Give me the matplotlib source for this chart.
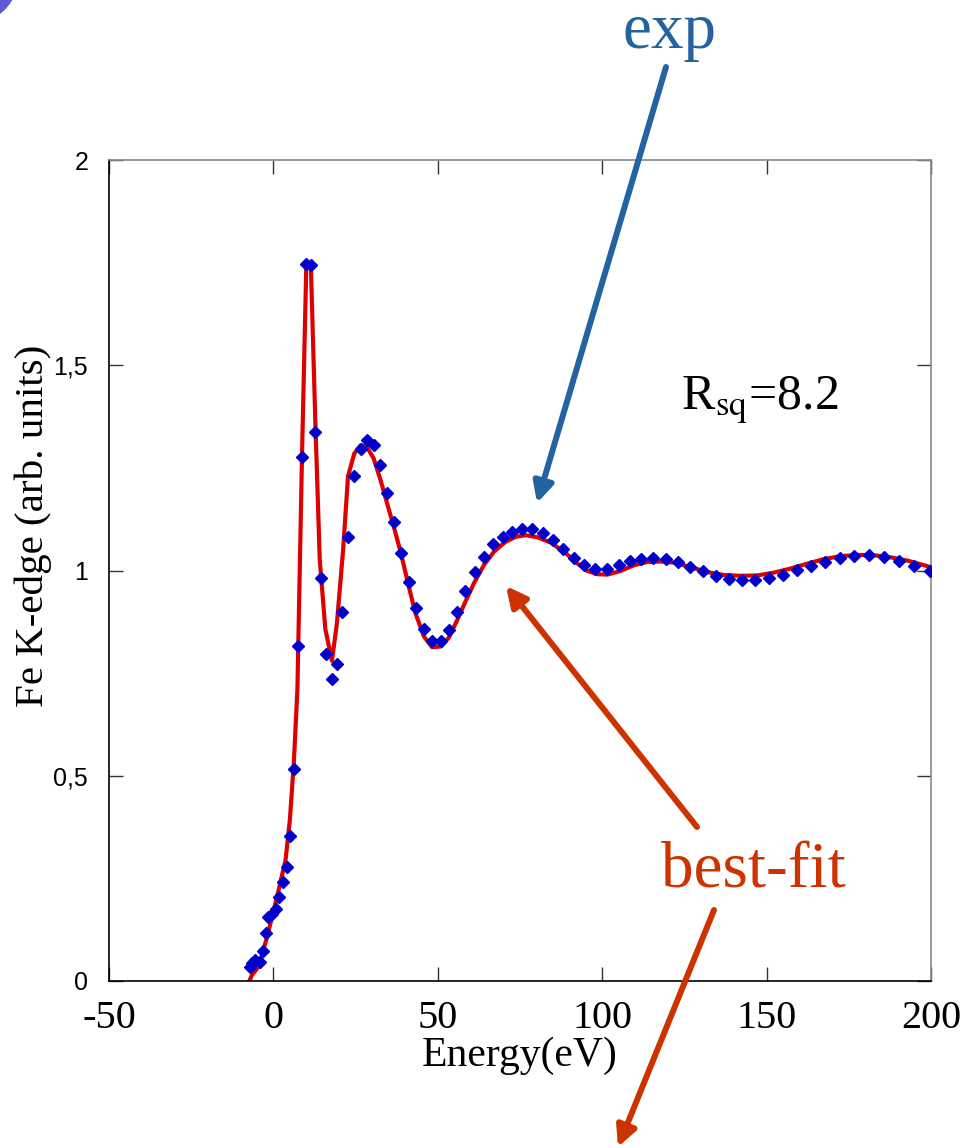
import matplotlib
matplotlib.use("Agg")
import matplotlib.pyplot as plt
from matplotlib.patches import Ellipse

plt.rcParams['mathtext.fontset'] = 'stix'

# ---- data ----
exp_energy = [-7.2, -6.5, -5.5, -4.0, -3.3, -2.2, -1.6, -0.4, 0.9, 1.8, 2.9, 4.0, 5.0, 6.2,
              7.4, 8.7, 10.0, 11.4, 12.8, 14.5, 15.9, 17.8, 19.2, 21.0, 22.7, 24.6, 26.6,
              28.5, 30.5, 32.4, 34.7, 36.7, 38.9, 41.1, 43.5, 45.9, 48.3, 50.9, 53.3, 55.8,
              58.4, 61.3, 64.0, 66.8, 69.7, 72.5, 75.7, 78.8, 81.9, 85.1, 88.2, 91.4, 94.6,
              97.9, 101.5, 105.0, 108.4, 111.9, 115.6, 119.3, 123.1, 126.8, 130.8, 134.6,
              138.6, 142.5, 146.5, 150.8, 154.9, 159.2, 163.5, 167.9, 172.3, 176.7, 181.2,
              185.7, 190.3, 194.9, 199.7]
exp_mu = [0.033, 0.043, 0.051, 0.047, 0.074, 0.116, 0.155, 0.162, 0.175, 0.204, 0.240, 0.277,
          0.354, 0.516, 0.816, 1.277, 1.747, 1.744, 1.338, 0.982, 0.797, 0.736, 0.772, 0.899,
          1.082, 1.229, 1.297, 1.319, 1.306, 1.256, 1.190, 1.118, 1.042, 0.973, 0.908, 0.857,
          0.828, 0.828, 0.855, 0.898, 0.949, 0.996, 1.034, 1.065, 1.082, 1.095, 1.101, 1.101,
          1.091, 1.074, 1.053, 1.030, 1.014, 1.004, 1.004, 1.013, 1.023, 1.028, 1.031, 1.027,
          1.021, 1.009, 0.998, 0.987, 0.980, 0.977, 0.977, 0.982, 0.989, 1.001, 1.010, 1.021,
          1.030, 1.036, 1.037, 1.032, 1.023, 1.010, 0.999]

fit_energy = [-7.3, -6.5, -4.5, -1.9, 1.1, 3.7, 5.0, 6.2, 7.3, 8.7, 10.0, 11.4, 12.8, 14.1,
              15.8, 17.8, 19.3, 21.2, 22.7, 24.6, 26.5, 28.5, 30.5, 32.6, 34.6, 36.6, 38.8,
              41.2, 43.2, 45.8, 48.3, 51.0, 53.4, 55.9, 58.4, 61.0, 64.0, 67.1, 70.6, 73.7,
              76.7, 80.3, 84.3, 88.4, 92.5, 95.5, 98.5, 101.6, 105.6, 109.7, 113.8, 117.7,
              121.9, 127.0, 132.0, 137.1, 142.2, 147.2, 152.3, 157.4, 162.5, 167.5, 172.6,
              177.7, 182.7, 187.8, 192.9, 200.0]
fit_mu = [0.0, 0.015, 0.035, 0.108, 0.205, 0.295, 0.392, 0.53, 0.71, 1.28, 1.74, 1.74, 1.35,
          1.026, 0.857, 0.78, 0.87, 1.05, 1.23, 1.285, 1.305, 1.30, 1.273, 1.22, 1.163, 1.107,
          1.042, 0.96, 0.896, 0.839, 0.813, 0.815, 0.837, 0.879, 0.924, 0.969, 1.013, 1.046,
          1.070, 1.082, 1.086, 1.081, 1.068, 1.046, 1.017, 0.999, 0.991, 0.990, 0.999, 1.013,
          1.021, 1.022, 1.019, 1.008, 0.996, 0.989, 0.987, 0.988, 0.995, 1.005, 1.017, 1.028,
          1.035, 1.038, 1.037, 1.032, 1.024, 1.008]

x_ticks = [-50, 0, 50, 100, 150, 200]
x_tick_labels = ['-50', '0', '50', '100', '150', '200']
y_ticks = [0, 0.5, 1, 1.5, 2]
y_tick_labels = ['0', '0,5', '1', '1,5', '2']

W, H = 978, 1148
fig = plt.figure(figsize=(W / 100, H / 100), dpi=100)
ax = fig.add_axes([109 / W, 1 - 981 / H, (931 - 109) / W, (981 - 160) / H])

ax.plot(fit_energy, fit_mu, color='#dd0000', lw=3.0, zorder=2, solid_joinstyle='round')
ax.plot(exp_energy, exp_mu, ls='none', marker='D', ms=6.3, color='#0000cc', mec='#0000cc', zorder=3)

ax.set_xlim(-50, 200)
ax.set_ylim(0, 2)
ax.set_xticks(x_ticks)
ax.set_xticklabels(x_tick_labels, fontfamily='Liberation Serif', fontsize=29)
ax.set_yticks(y_ticks)
ax.set_yticklabels(y_tick_labels, fontfamily='Liberation Sans', fontsize=18)
ax.tick_params(axis='both', direction='in', length=10, width=1.0, color='#333333',
               top=True, right=True)
ax.tick_params(axis='x', pad=14)
ax.tick_params(axis='y', pad=15)

for s in ['left', 'bottom']:
    ax.spines[s].set_color('black')
    ax.spines[s].set_linewidth(1.2)
for s in ['top', 'right']:
    ax.spines[s].set_color('#888888')
    ax.spines[s].set_linewidth(1.2)

ax.set_xlabel('Energy(eV)', fontfamily='Liberation Serif', fontsize=30)
ax.xaxis.label.set_va('center')
ax.xaxis.set_label_coords(0.5, (981 - 1056) / 821)
ax.set_ylabel('Fe K-edge (arb. units)', fontfamily='Liberation Serif', fontsize=29.5)
ax.yaxis.label.set_va('center')
ax.yaxis.set_label_coords((33 - 109) / 822, (981 - 526) / 821)

ax.text((760 - 109) / 822, (981 - 400) / 821, r'R$_{\mathrm{sq}}$=8.2', transform=ax.transAxes,
        fontfamily='Liberation Serif', fontsize=36, ha='center', va='center')

# annotations
fig.text(670 / W, 1 - 32 / H, 'exp', fontfamily='Liberation Serif', fontsize=47,
         color='#2263a0', ha='center', va='center')
fig.text(753 / W, 1 - 872 / H, 'best-fit', fontfamily='Liberation Serif', fontsize=47,
         color='#cc3300', ha='center', va='center')

def arrow(x0, y0, x1, y1, color):
    ax.annotate('', xy=(x1, H - y1), xytext=(x0, H - y0), xycoords='figure pixels',
                textcoords='figure pixels', annotation_clip=False,
                arrowprops=dict(arrowstyle='-|>', lw=4.3, color=color, mutation_scale=30,
                                shrinkA=0, shrinkB=0))

arrow(666, 67, 537, 503, '#2263a0')
arrow(697, 827, 506, 586, '#cc3300')
arrow(714, 910, 618, 1147, '#cc3300')

fig.add_artist(Ellipse((-30 / W, 1 + 25 / H), 97 / W, 97 / H, transform=fig.transFigure,
                       color='#5c5cd2', clip_on=False))

fig.savefig('out.png', dpi=100)
